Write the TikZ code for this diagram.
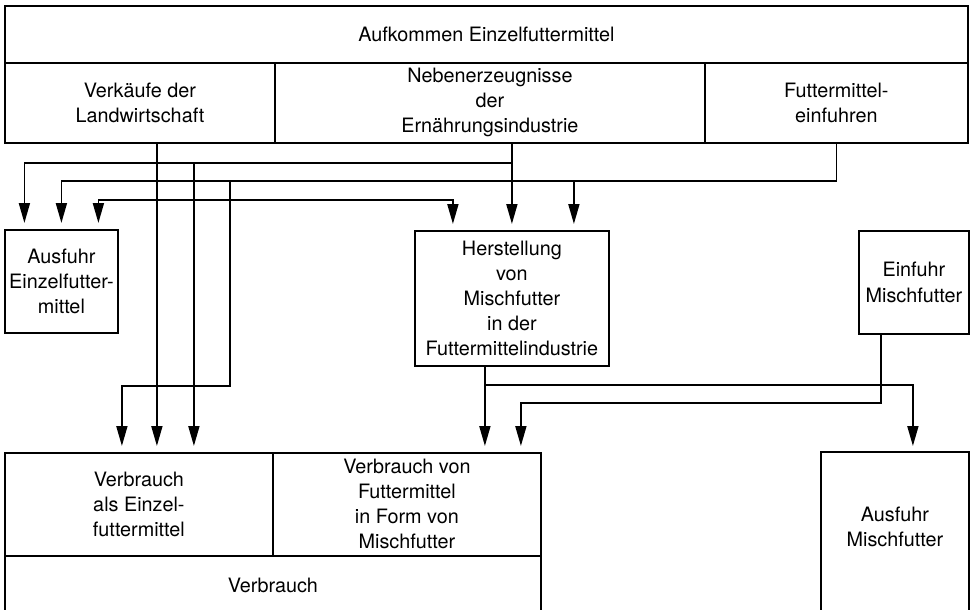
\documentclass[tikz,border=0pt]{standalone}
\usepackage{fontspec}
\setmainfont{TeX Gyre Heros}
\usetikzlibrary{arrows.meta}
\begin{document}
\begin{tikzpicture}[x=1pt,y=-1pt,
  box/.style={draw, line width=1.8pt, align=center, inner sep=0pt,
    anchor=north west, font=\fontsize{19.8}{25}\selectfont},
  line/.style={line width=1.8pt},
  arr/.style={line, -{Triangle[length=20pt,width=11pt]}, shorten >=6pt}]
\clip (0,0) rectangle (970,610);
\fill[white] (0,0) rectangle (970,610);

% supply block
\node[box, minimum width=963, minimum height=57] (aufk) at (4,5) {Aufkommen Einzelfuttermittel};
\node[box, minimum width=270, minimum height=80] (verk) at (4,62) {Verkäufe der\\Landwirtschaft};
\node[box, minimum width=430, minimum height=80] (neben) at (274,62) {Nebenerzeugnisse\\der\\Ernährungsindustrie};
\node[box, minimum width=263, minimum height=80] (einf) at (704,62) {Futtermittel-\\einfuhren};

% middle row
\node[box, minimum width=113, minimum height=103] (ausE) at (4,229) {Ausfuhr\\Einzelfutter-\\mittel};
\node[box, minimum width=194, minimum height=135] (herst) at (414,230) {Herstellung\\von\\Mischfutter\\in der\\Futtermittelindustrie};
\node[box, minimum width=110, minimum height=103] (einM) at (858,230) {Einfuhr\\Mischfutter};

% use block
\node[box, minimum width=268, minimum height=103] (verbL) at (4,452) {Verbrauch\\als Einzel-\\futtermittel};
\node[box, minimum width=268, minimum height=103] (verbR) at (272,452) {Verbrauch von\\Futtermittel\\in Form von\\Mischfutter};
\node[box, minimum width=536, minimum height=60] (verbB) at (4,555) {Verbrauch};
\node[box, draw=none, minimum width=146, minimum height=148] (ausM) at (821,452) {Ausfuhr\\Mischfutter};
\draw[line] ([yshift=-20pt]ausM.south west) |- (ausM.north east) -- ([yshift=-20pt]ausM.south east);

% routing levels
\coordinate (lvN) at (0,163);
\coordinate (lvF) at (0,181);
\coordinate (lvV) at (0,200);
\coordinate (lvFb) at (0,386);
\coordinate (lvH) at (0,385);
\coordinate (lvM) at (0,403);
\coordinate (kF) at (230,181);

% Verkaeufe der Landwirtschaft
\coordinate (vk) at ([xshift=17pt]verk.south);
\draw[arr] (vk) -- (vk |- verbL.north);
\draw[arr] (vk |- lvV) -| ([xshift=37pt]ausE.north);
\draw[arr] (vk |- lvV) -| ([xshift=-59pt]herst.north);

% Nebenerzeugnisse
\coordinate (ne) at ([xshift=22pt]neben.south);
\draw[arr] (ne) -- (ne |- herst.north);
\draw[arr] (ne |- lvN) -| ([xshift=-37pt]ausE.north);
\coordinate (vN) at ([xshift=55pt]verbL.north);
\draw[arr] (vN |- lvN) -- (vN);

% Futtermitteleinfuhren
\draw[arr] (einf.south) |- (ausE.north |- lvF) -- (ausE.north);
\coordinate (hF) at ([xshift=62pt]herst.north);
\draw[arr] (hF |- lvF) -- (hF);
\draw[arr] (kF) |- ([xshift=-17pt]verbL.north |- lvFb) -- ([xshift=-17pt]verbL.north);

% Herstellung von Mischfutter
\coordinate (hs) at ([xshift=-27pt]herst.south);
\draw[arr] (hs) -- (hs |- verbR.north);
\draw[arr] (hs |- lvH) -| ([xshift=18pt]ausM.north);

% Einfuhr Mischfutter
\coordinate (em) at ([xshift=-33pt]einM.south);
\coordinate (tR) at ([xshift=114pt]verbR.north);
\draw[arr] (em) |- (tR |- lvM) -- (tR);
\end{tikzpicture}
\end{document}
